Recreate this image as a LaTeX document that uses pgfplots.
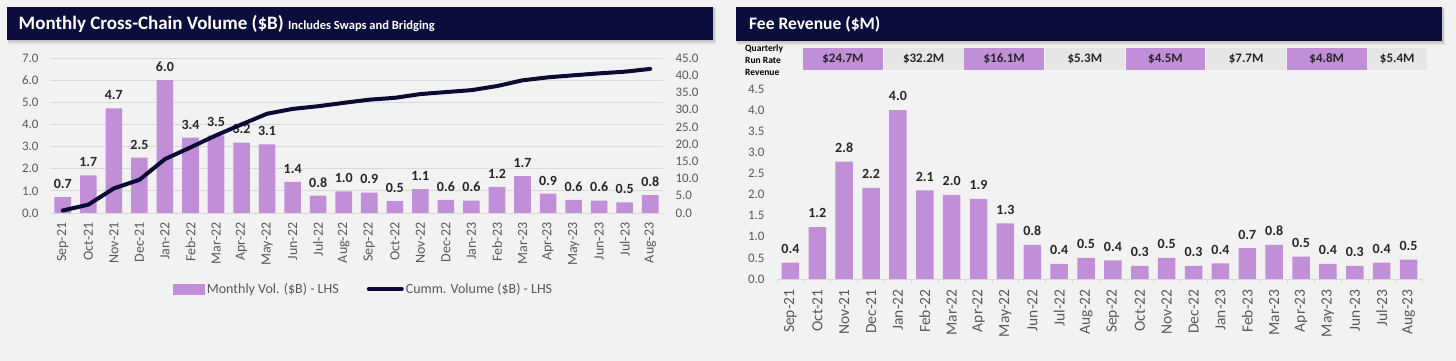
\documentclass[border=0pt]{standalone}
\usepackage{fontspec}
\setmainfont{Carlito}
\usepackage{pgfplots}
\usepackage{pgfplotstable}
\pgfplotsset{compat=1.18}
\definecolor{bgc}{HTML}{F2F2F2}
\definecolor{navy}{HTML}{0B0D3D}
\definecolor{barp}{HTML}{C18FD7}
\definecolor{boxg}{HTML}{E6E6E6}
\definecolor{tickc}{HTML}{595959}
\definecolor{gridc}{HTML}{D9D9D9}
\definecolor{labc}{HTML}{262626}
\definecolor{linec}{HTML}{0A0A33}

\pgfplotstableread{
x vol cum fee
0 0.72 0.72 0.39
1 1.70 2.42 1.23
2 4.72 7.14 2.78
3 2.50 9.64 2.16
4 6.00 15.64 4.00
5 3.40 19.04 2.10
6 3.50 22.54 1.99
7 3.18 25.72 1.90
8 3.10 28.82 1.32
9 1.40 30.22 0.81
10 0.78 31.00 0.36
11 0.98 31.98 0.50
12 0.92 32.90 0.44
13 0.54 33.44 0.31
14 1.08 34.52 0.50
15 0.59 35.11 0.31
16 0.56 35.67 0.37
17 1.18 36.85 0.73
18 1.67 38.52 0.81
19 0.87 39.39 0.53
20 0.59 39.98 0.36
21 0.56 40.54 0.31
22 0.48 41.02 0.39
23 0.81 41.83 0.46
}\datatable

\newcommand{\months}{Sep-21,Oct-21,Nov-21,Dec-21,Jan-22,Feb-22,Mar-22,Apr-22,May-22,Jun-22,Jul-22,Aug-22,Sep-22,Oct-22,Nov-22,Dec-22,Jan-23,Feb-23,Mar-23,Apr-23,May-23,Jun-23,Jul-23,Aug-23}

\pgfplotsset{
  common/.style={
    scale only axis,
    xmin=-0.5, xmax=23.5,
    /pgf/number format/fixed,
    /pgf/number format/fixed zerofill,
    /pgf/number format/precision=1,
    /pgf/number format/assume math mode=true,
    major tick length=0pt,
    yticklabel style={font=\fontsize{13}{15}\selectfont, text=tickc},
  },
}

\begin{document}
\begin{tikzpicture}
\useasboundingbox (0,0) rectangle (1456pt,361pt);
\fill[bgc] (0,0) rectangle (1456pt,361pt);

% title bars
\fill[black!12] (9pt,317pt) rectangle (716pt,352pt);
\fill[black!22] (8pt,318.5pt) rectangle (714.5pt,353pt);
\fill[navy] (7pt,321pt) rectangle (713pt,354pt);
\node[anchor=base west, inner sep=0pt, text=white, font=\bfseries\fontsize{19}{22}\selectfont] at (18.5pt,331pt) {Monthly Cross-Chain Volume (\$B) {\fontsize{12.5}{14}\selectfont Includes Swaps and Bridging}};

\fill[black!12] (738pt,316pt) rectangle (1445pt,352pt);
\fill[black!22] (737pt,317.5pt) rectangle (1443.5pt,353pt);
\fill[navy] (736pt,320pt) rectangle (1442pt,354pt);
\node[anchor=base west, inner sep=0pt, text=white, font=\bfseries\fontsize{17.5}{20}\selectfont] at (749pt,331pt) {Fee Revenue (\$M)};

\node[anchor=north west, inner sep=0pt, align=left, text=black, font=\bfseries\fontsize{9.5}{11.7}\selectfont] at (745pt,316pt) {Quarterly\\Run Rate\\Revenue};

% ---------- left chart ----------
\begin{axis}[common,
  at={(50pt,148pt)}, anchor=south west,
  width=613pt, height=155pt,
  ymin=0, ymax=7, ytick={0,1,...,7},
  ymajorgrids, grid style={gridc, line width=0.8pt},
  axis line style={draw=none},
  xtick={0,...,23}, xticklabels/.expand once={\months},
  xticklabel style={rotate=90, anchor=east, yshift=0pt, xshift=-6pt, font=\fontsize{14}{16}\selectfont, text=tickc},
  yticklabel style={xshift=-8pt},
]
\addplot[ybar, bar width=0.65, fill=barp, draw=none,
  nodes near coords,
  nodes near coords style={font=\bfseries\fontsize{14}{16}\selectfont, text=labc, yshift=5pt}]
  table[x=x, y=vol]{\datatable};
\end{axis}

\begin{axis}[common,
  at={(50pt,148pt)}, anchor=south west,
  width=613pt, height=155pt,
  ymin=0, ymax=45, ytick={0,5,...,45},
  axis x line=none, axis y line*=right,
  y axis line style={draw=none},
  yticklabel style={xshift=9pt},
  legend style={at={(0.512,-0.49)}, anchor=center, draw=none, fill=none,
    font=\fontsize{14}{16}\selectfont, text=tickc,
    /tikz/every even column/.append style={column sep=26pt}},
  legend columns=2,
]
\addlegendimage{legend image code/.code={\fill[barp] (0pt,-5pt) rectangle (31pt,5pt);}}
\addlegendentry{Monthly Vol. (\$B) - LHS}
\addplot[linec, line width=4pt, line join=round, line cap=round, mark=none,
  legend image code/.code={\draw[linec, line width=4pt] (0pt,0pt) -- (33pt,0pt);}]
  table[x=x, y=cum]{\datatable};
\addlegendentry{Cumm. Volume (\$B) - LHS}
\end{axis}

% ---------- right chart ----------
\begin{axis}[common,
  at={(777pt,82pt)}, anchor=south west,
  width=645pt, height=190pt,
  clip=false,
  ymin=0, ymax=4.5, ytick={0,0.5,...,4.5},
  axis x line*=bottom, axis y line*=left,
  y axis line style={draw=none},
  x axis line style={draw=gridc, line width=0.8pt},
  xtick={0,...,23}, xticklabels/.expand once={\months},
  minor xtick={-0.5,0.5,...,23.5},
  minor tick length=4pt, tick align=outside,
  minor tick style={gridc, line width=0.8pt},
  xticklabel style={rotate=90, anchor=east, xshift=-7pt, font=\fontsize{15.5}{17}\selectfont, text=tickc},
  yticklabel style={xshift=-9pt},
]
\addplot[ybar, bar width=0.65, fill=barp, draw=none,
  nodes near coords,
  nodes near coords style={font=\bfseries\fontsize{14}{16}\selectfont, text=labc, yshift=5.5pt}]
  table[x=x, y=fee]{\datatable};

\fill[barp] (axis cs:0.47,4.95) rectangle (axis cs:3.44,5.47);
\fill[boxg] (axis cs:3.47,4.95) rectangle (axis cs:6.44,5.47);
\fill[barp] (axis cs:6.47,4.95) rectangle (axis cs:9.44,5.47);
\fill[boxg] (axis cs:9.47,4.95) rectangle (axis cs:12.44,5.47);
\fill[barp] (axis cs:12.47,4.95) rectangle (axis cs:15.44,5.47);
\fill[boxg] (axis cs:15.47,4.95) rectangle (axis cs:18.44,5.47);
\fill[barp] (axis cs:18.47,4.95) rectangle (axis cs:21.44,5.47);
\fill[boxg] (axis cs:21.47,4.95) rectangle (axis cs:23.69,5.47);
\begin{scope}[every node/.style={font=\bfseries\fontsize{13}{15}\selectfont, text=labc, inner sep=0pt}]
\node at (axis cs:1.955,5.21) {\$24.7M};
\node at (axis cs:4.955,5.21) {\$32.2M};
\node at (axis cs:7.955,5.21) {\$16.1M};
\node at (axis cs:10.955,5.21) {\$5.3M};
\node at (axis cs:13.955,5.21) {\$4.5M};
\node at (axis cs:16.955,5.21) {\$7.7M};
\node at (axis cs:19.955,5.21) {\$4.8M};
\node at (axis cs:22.58,5.21) {\$5.4M};
\end{scope}
\end{axis}
\end{tikzpicture}
\end{document}
